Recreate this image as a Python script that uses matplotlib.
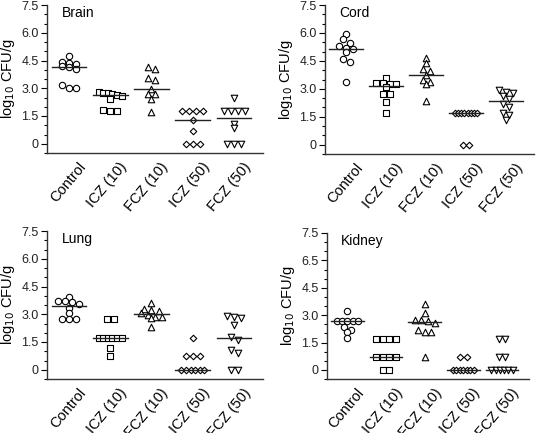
import matplotlib
matplotlib.use("Agg")
import matplotlib.pyplot as plt
import matplotlib.transforms as mtransforms
from matplotlib.ticker import MultipleLocator
import numpy as np

plt.rcParams['font.family'] = ['Liberation Sans', 'DejaVu Sans']

# groups and their marker shapes
groups = ["Control", "ICZ (10)", "FCZ (10)", "ICZ (50)", "FCZ (50)"]
markers = ["o", "s", "^", "D", "v"]
msize = [21, 19, 22, 11, 22]

# log10 CFU/g, one list per group
brain = [
    [4.75, 4.4, 4.35, 4.3, 4.2, 4.15, 4.05, 3.15, 3.0, 3.0],
    [2.78, 2.75, 2.72, 2.7, 2.65, 2.6, 2.4, 1.8, 1.78, 1.75],
    [4.17, 4.05, 3.54, 3.45, 2.95, 2.7, 2.7, 2.41, 1.69],
    [1.75, 1.75, 1.75, 1.75, 1.3, 0.7, 0, 0, 0],
    [2.5, 1.75, 1.75, 1.75, 1.75, 1.05, 0.85, 0, 0, 0],
]
cord = [
    [5.95, 5.68, 5.48, 5.3, 5.18, 5.13, 4.96, 4.62, 4.45, 3.37],
    [3.57, 3.32, 3.3, 3.28, 3.25, 3.1, 2.7, 2.7, 2.27, 1.7],
    [4.64, 4.41, 4.05, 3.98, 3.75, 3.48, 3.39, 3.27, 2.32],
    [1.7, 1.7, 1.7, 1.7, 1.7, 1.7, 1.7, 1.7, 0, 0],
    [2.92, 2.85, 2.78, 2.6, 2.45, 2.2, 2.05, 1.7, 1.62, 1.35],
]
lung = [
    [3.94, 3.72, 3.7, 3.68, 3.55, 3.35, 3.05, 2.73, 2.73, 2.73],
    [2.73, 2.73, 1.7, 1.7, 1.7, 1.7, 1.7, 1.7, 1.17, 0.72],
    [3.6, 3.3, 3.22, 3.2, 3.05, 2.95, 2.85, 2.85, 2.82, 2.32],
    [1.7, 0.72, 0.72, 0.72, 0, 0, 0, 0, 0, 0],
    [2.93, 2.84, 2.79, 2.43, 1.76, 1.62, 1.08, 0.9, 0, 0],
]
kidney = [
    [3.2, 2.7, 2.7, 2.7, 2.7, 2.7, 2.35, 2.2, 2.05, 1.75],
    [1.7, 1.7, 1.7, 1.7, 0.7, 0.7, 0.7, 0.7, 0, 0],
    [3.61, 3.09, 2.76, 2.72, 2.7, 2.58, 2.2, 2.05, 2.05, 0.7],
    [0.7, 0.7, 0, 0, 0, 0, 0, 0, 0],
    [1.7, 1.7, 0.7, 0.7, 0, 0, 0, 0, 0, 0],
]

yticks = [0, 1.5, 3.0, 4.5, 6.0, 7.5]
ticklabels = ["0", "1.5", "3.0", "4.5", "6.0", "7.5"]
kidney_ticklabels = ["0", "1.5", "3.0", "4.5", "6.5", "7.5"]

panels = [
    ("Brain", brain, ticklabels, [47, 5, 263, 153]),
    ("Cord", cord, ticklabels, [325, 5, 534, 154]),
    ("Lung", lung, ticklabels, [47, 231, 263, 379]),
    ("Kidney", kidney, kidney_ticklabels, [327, 233, 529, 379]),
]

W, H = 544, 433


def swarm(values, step=0.17, maxspan=0.55, rowgap=0.2):
    # lay equal-ish values out side by side, squeezing long rows
    vals = sorted(values, reverse=True)
    rows = []
    for v in vals:
        if rows and rows[-1][0] - v < rowgap:
            rows[-1].append(v)
        else:
            rows.append([v])
    xs, ys = [], []
    for row in rows:
        n = len(row)
        d = step if n < 2 else min(step, maxspan / (n - 1))
        xs += list((np.arange(n) - (n - 1) / 2) * d)
        ys += row
    return np.array(xs), np.array(ys)


fig = plt.figure(figsize=(W / 100, H / 100), dpi=100)

for name, data, tl, (x0, y0, x1, y1) in panels:
    ax = fig.add_axes([x0 / W, 1 - y1 / H, (x1 - x0) / W, (y1 - y0) / H])
    for i, vals in enumerate(data):
        dx, ys = swarm(vals)
        ax.scatter(i + dx, ys, s=msize[i], marker=markers[i], facecolor="white",
                   edgecolor="black", linewidth=0.8, zorder=2)
        med = np.median(vals)
        ax.plot([i - 0.42, i + 0.42], [med, med], color="#222222", lw=1.0, zorder=3)

    ax.set_xlim(-0.53, 4.7)
    ax.set_ylim(-0.5, 7.5)
    ax.set_yticks(yticks)
    ax.set_yticklabels(tl, fontsize=9, color="#222222")
    ax.yaxis.set_minor_locator(MultipleLocator(0.5))
    ax.tick_params(axis="y", which="major", length=4, width=0.8, pad=2)
    ax.tick_params(axis="y", which="minor", length=2.5, width=0.8)
    ax.set_xticks(range(len(groups)))
    ax.set_xticklabels(groups, fontsize=10.5, rotation=50, ha="right", va="top",
                       rotation_mode="anchor")
    ax.tick_params(axis="x", length=0, pad=5)
    offset = mtransforms.ScaledTranslation(0.09, 0, fig.dpi_scale_trans)
    for lab in ax.get_xticklabels():
        lab.set_transform(lab.get_transform() + offset)
    for side in ["top", "right"]:
        ax.spines[side].set_visible(False)
    for side in ["left", "bottom"]:
        ax.spines[side].set_linewidth(1.0)
        ax.spines[side].set_color("#333333")
    ax.set_ylabel("log$_{10}$ CFU/g", fontsize=10.5, labelpad=3)
    ax.text(0.07, 0.99, name, transform=ax.transAxes, fontsize=10,
            ha="left", va="top")

fig.savefig("out.png", dpi=100)
